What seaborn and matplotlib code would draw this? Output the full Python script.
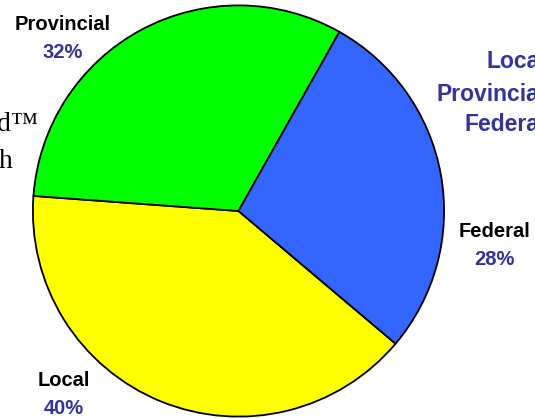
import matplotlib.pyplot as plt
import seaborn as sns

sns.set_theme(style="white")
plt.rcParams['font.family'] = ['Liberation Sans', 'DejaVu Sans']

# dados
niveis = ["Local", "Provincial", "Federal"]
percentuais = [40, 32, 28]
cores = ["#FFFF00", "#00FF00", "#3366FF"]
legenda = ["Local", "Provincial", "Federal"]

AZUL_TXT = "#333399"
W, H = 535, 418

fig = plt.figure(figsize=(W / 100, H / 100), dpi=100)
ax = fig.add_axes([0, 0, 1, 1])

ax.pie(percentuais, colors=cores, startangle=-40.2, counterclock=False,
       wedgeprops=dict(edgecolor="black", linewidth=1.3))

# centro e raio em pixels
cx, cy, r = 238.5, 211, 205.6
ax.set_xlim(-cx / r, (W - cx) / r)
ax.set_ylim(-(H - cy) / r, cy / r)
ax.set_aspect('auto')
ax.axis('off')


def fx(px):
    return px / W


def fy(py):
    return 1 - py / H


# rótulos das fatias (nome, x, baseline nome, baseline %)
posicoes = {"Provincial": (63, 30, 58), "Federal": (494, 237, 265), "Local": (64, 386, 414)}
for nome, pct in zip(niveis, percentuais):
    x, y1, y2 = posicoes[nome]
    fig.text(fx(x), fy(y1), nome, ha='center', va='baseline', fontsize=14.5,
             fontweight='bold', color='black')
    fig.text(fx(x), fy(y2), f"{pct}%", ha='center', va='baseline', fontsize=14.5,
             fontweight='bold', color=AZUL_TXT)

# texto cortado à direita
for txt, y in zip(legenda, [68, 101, 131]):
    fig.text(fx(546), fy(y), txt, ha='right', va='baseline', fontsize=16.5,
             fontweight='bold', color=AZUL_TXT)

# texto cortado à esquerda
fig.text(fx(38), fy(131), "d™", ha='right', va='baseline', fontsize=20,
         family=['Liberation Serif', 'DejaVu Serif'], color='black')
fig.text(fx(13), fy(168), "h", ha='right', va='baseline', fontsize=20,
         family=['Liberation Serif', 'DejaVu Serif'], color='black')

fig.savefig("out.png", dpi=100)
